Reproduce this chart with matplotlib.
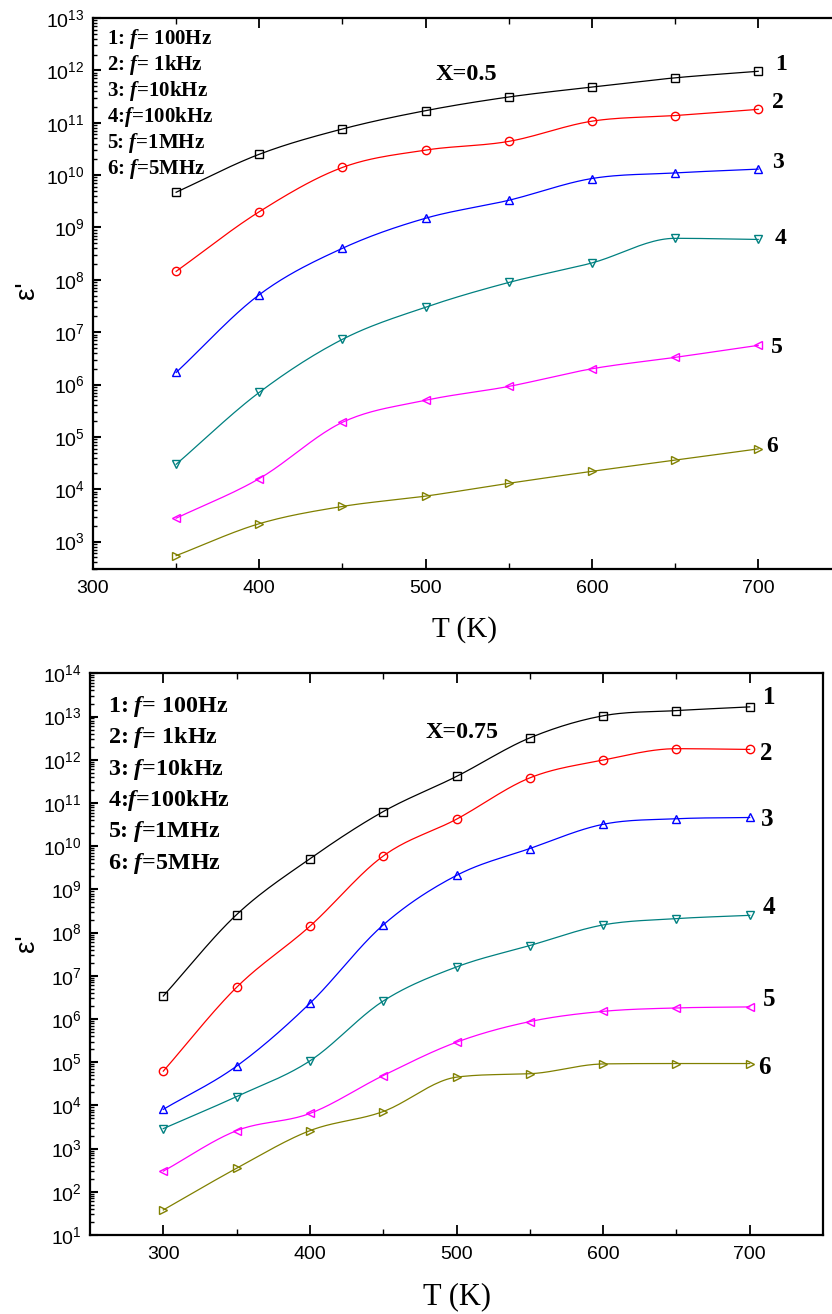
import numpy as np
import matplotlib
matplotlib.use("Agg")
import matplotlib.pyplot as plt
from matplotlib.ticker import LogLocator, FixedLocator, NullFormatter, FuncFormatter

plt.rcParams['mathtext.fontset'] = 'custom'
plt.rcParams['mathtext.rm'] = 'Liberation Serif:bold'
plt.rcParams['mathtext.it'] = 'Liberation Serif:bold:italic'
plt.rcParams['mathtext.sf'] = 'Liberation Sans'
plt.rcParams['font.family'] = ['Liberation Sans', 'DejaVu Sans']

# ---------------- data ----------------
T_top = [350, 400, 450, 500, 550, 600, 650, 700]
top_f1 = [4.7e9, 2.5e10, 7.6e10, 1.7e11, 3.1e11, 4.8e11, 7.2e11, 9.6e11]
top_f2 = [1.45e8, 2.0e9, 1.4e10, 3.0e10, 4.4e10, 1.07e11, 1.37e11, 1.8e11]
top_f3 = [1.7e6, 5.2e7, 4.0e8, 1.5e9, 3.3e9, 8.6e9, 1.1e10, 1.3e10]
top_f4 = [3.0e4, 7.1e5, 7.3e6, 3.0e7, 8.9e7, 2.1e8, 6.2e8, 5.9e8]
top_f5 = [2.8e3, 1.6e4, 1.9e5, 5.0e5, 9.2e5, 2.0e6, 3.3e6, 5.6e6]
top_f6 = [540, 2.2e3, 4.7e3, 7.4e3, 1.3e4, 2.2e4, 3.6e4, 5.9e4]

T_bot = [300, 350, 400, 450, 500, 550, 600, 650, 700]
bot_f1 = [3.4e6, 2.6e8, 5.1e9, 6.3e10, 4.1e11, 3.2e12, 1.04e13, 1.37e13, 1.67e13]
bot_f2 = [6.2e4, 5.4e6, 1.4e8, 5.9e9, 4.2e10, 3.8e11, 9.8e11, 1.8e12, 1.73e12]
bot_f3 = [8.1e3, 8.1e4, 2.3e6, 1.5e8, 2.1e9, 8.8e9, 3.2e10, 4.3e10, 4.6e10]
bot_f4 = [2.9e3, 1.6e4, 1.07e5, 2.6e6, 1.6e7, 5.0e7, 1.5e8, 2.1e8, 2.5e8]
bot_f5 = [300, 2.6e3, 6.5e3, 4.9e4, 2.9e5, 8.7e5, 1.5e6, 1.8e6, 1.9e6]
bot_f6 = [38, 350, 2.6e3, 7.2e3, 4.5e4, 5.4e4, 9.1e4, 9.3e4, 9.3e4]

series_labels = ['1', '2', '3', '4', '5', '6']
legend_lines = [r'1: $\mathit{f}$= 100Hz', r'2: $\mathit{f}$= 1kHz', r'3: $\mathit{f}$=10kHz',
                r'4:$\mathit{f}$=100kHz', r'5: $\mathit{f}$=1MHz', r'6: $\mathit{f}$=5MHz']
colors = ['#000000', '#FF0000', '#0000FF', '#008080', '#FF00FF', '#808000']
markers = ['s', 'o', '^', 'v', '<', '>']
xticks = [300, 400, 500, 600, 700]


def smooth(x, y, n=24):
    """Smooth cubic Hermite line through the points in log space
    (Catmull-Rom tangents, limited to avoid overshoot)."""
    x = np.asarray(x, float)
    ly = np.log10(np.asarray(y, float))
    h = np.diff(x)
    d = np.diff(ly) / h
    m = np.zeros_like(ly)
    m[0], m[-1] = d[0], d[-1]
    for k in range(1, len(x) - 1):
        m[k] = 0.0 if d[k - 1] * d[k] <= 0 else 0.5 * (d[k - 1] + d[k])
    for i in range(len(d)):
        if d[i] == 0:
            m[i] = m[i + 1] = 0.0
            continue
        a, b = m[i] / d[i], m[i + 1] / d[i]
        s = a * a + b * b
        if s > 9:
            tau = 3 / np.sqrt(s)
            m[i], m[i + 1] = tau * a * d[i], tau * b * d[i]
    xs, ys = [x[0]], [ly[0]]
    for i in range(len(x) - 1):
        t = np.linspace(0, 1, n)[1:]
        h00 = 2 * t ** 3 - 3 * t ** 2 + 1
        h10 = t ** 3 - 2 * t ** 2 + t
        h01 = -2 * t ** 3 + 3 * t ** 2
        h11 = t ** 3 - t ** 2
        seg = h00 * ly[i] + h10 * h[i] * m[i] + h01 * ly[i + 1] + h11 * h[i] * m[i + 1]
        xs.extend(x[i] + h[i] * t)
        ys.extend(seg)
    return np.array(xs), 10 ** np.array(ys)


def log_fmt(v, pos):
    e = int(round(np.log10(v)))
    return r'$\mathsf{10^{%d}}$' % e


fig = plt.figure(figsize=(8.32, 13.14), dpi=100)

W, H = 832.0, 1314.0
ax1 = fig.add_axes([93 / W, 1 - 569 / H, (450 * 1.663) / W, (569 - 18) / H])
ax2 = fig.add_axes([90 / W, 1 - 1235 / H, 733 / W, (1235 - 673.3) / H])


def style(ax, xlim, ylim, decades, right_spine):
    ax.set_yscale('log')
    ax.set_xlim(*xlim)
    ax.set_ylim(*ylim)
    ax.yaxis.set_major_locator(FixedLocator([10.0 ** k for k in decades]))
    ax.yaxis.set_major_formatter(FuncFormatter(log_fmt))
    ax.yaxis.set_minor_locator(LogLocator(base=10, subs=np.arange(2, 10), numticks=40))
    ax.yaxis.set_minor_formatter(NullFormatter())
    ax.xaxis.set_major_locator(FixedLocator(xticks))
    ax.xaxis.set_minor_locator(FixedLocator([350, 450, 550, 650]))
    ax.tick_params(axis='both', which='both', direction='in')
    ax.tick_params(axis='y', which='major', length=6, width=1.5, labelsize=14, pad=6)
    ax.tick_params(axis='y', which='minor', length=3, width=1.0)
    ax.tick_params(axis='x', which='major', length=7, width=1.3, labelsize=14, pad=8,
                   top=True)
    ax.tick_params(axis='x', which='minor', length=4, width=1.0, top=True)
    ax.tick_params(axis='y', which='both', right=False)
    for s in ax.spines.values():
        s.set_linewidth(1.6)
    ax.spines['right'].set_visible(right_spine)


style(ax1, (300, 750), (300, 1e13), range(3, 14), False)
style(ax2, (250, 750), (10, 1e14), range(1, 15), True)

top_data = [top_f1, top_f2, top_f3, top_f4, top_f5, top_f6]
bot_data = [bot_f1, bot_f2, bot_f3, bot_f4, bot_f5, bot_f6]

for ax, T, data in [(ax1, T_top, top_data), (ax2, T_bot, bot_data)]:
    for vals, c, m in zip(data, colors, markers):
        sx, sy = smooth(T, vals)
        ax.plot(sx, sy, color=c, lw=0.9)
        ax.plot(T, vals, linestyle='none', marker=m, markersize=6, markerfacecolor='none',
                markeredgecolor=c, markeredgewidth=1.0)

serif_bold = dict(family='Liberation Serif', weight='bold', color='black')

for i, s in enumerate(legend_lines):
    fig.text(107 / W, 1 - (39 + 26 * i) / H, s, fontsize=15, va='center', ha='left', **serif_bold)
    fig.text(108 / W, 1 - (706.7 + 31.3 * i) / H, s, fontsize=17.3, va='center', ha='left', **serif_bold)

fig.text(436 / W, 1 - 75 / H, 'X=0.5', fontsize=17.5, va='center', ha='left', **serif_bold)
fig.text(426 / W, 1 - 732 / H, 'X=0.75', fontsize=17.3, va='center', ha='left', **serif_bold)

top_num_pos = [(775, 64), (772, 102), (772, 163), (775, 239), (771, 347), (766, 447)]
bot_num_pos = [(763, 697), (760, 753), (761, 819), (763, 908), (763, 999), (758, 1067)]
for lab, (x, y) in zip(series_labels, top_num_pos):
    fig.text(x / W, 1 - y / H, lab, fontsize=17, va='center', ha='left', **serif_bold)
for lab, (x, y) in zip(series_labels, bot_num_pos):
    fig.text(x / W, 1 - y / H, lab, fontsize=18, va='center', ha='left', **serif_bold)

fig.text(465 / W, 1 - 630 / H, 'T (K)', fontsize=21, va='center', ha='center',
         family='Liberation Serif')
fig.text(457 / W, 1 - 1297 / H, 'T (K)', fontsize=22, va='center', ha='center',
         family='Liberation Serif')
fig.text(27 / W, 1 - 290 / H, "ε'", fontsize=20, va='center', ha='center', rotation=90,
         family=['Liberation Sans', 'DejaVu Sans'])
fig.text(27 / W, 1 - 943 / H, "ε'", fontsize=20, va='center', ha='center', rotation=90,
         family=['Liberation Sans', 'DejaVu Sans'])

fig.savefig('out.png', dpi=100)
